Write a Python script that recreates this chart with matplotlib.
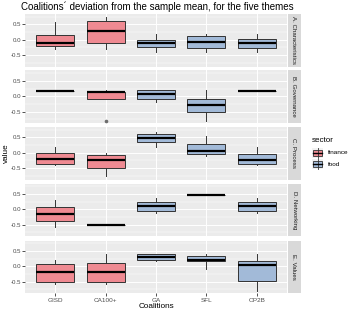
import matplotlib
matplotlib.use('Agg')
import matplotlib.pyplot as plt
from matplotlib.patches import Rectangle
from matplotlib.lines import Line2D

plt.rcParams['font.family'] = ['Liberation Sans', 'DejaVu Sans']

coalitions = ['GISD', 'CA100+', 'GA', 'SFL', 'OP2B']
sector_of = ['finance', 'finance', 'food', 'food', 'food']
themes = ['A. Characteristics', 'B. Governance', 'C. Process', 'D. Networking', 'E. Values']

# each row: [whisker low, q1, median, q3, whisker high] per coalition
theme_a = [[-0.29, -0.21, -0.10, 0.14, 0.58],
           [-0.29, -0.09, 0.28, 0.62, 0.73],
           [-0.39, -0.25, -0.12, -0.02, 0.18],
           [-0.39, -0.26, -0.08, 0.11, 0.19],
           [-0.39, -0.26, -0.11, 0.04, 0.19]]
theme_b = [[0.16, 0.16, 0.16, 0.16, 0.16],
           [-0.10, -0.10, 0.15, 0.15, 0.20],
           [-0.19, -0.08, 0.08, 0.21, 0.21],
           [-0.79, -0.50, -0.29, -0.09, 0.19],
           [0.16, 0.16, 0.16, 0.16, 0.16]]
theme_c = [[-0.40, -0.35, -0.21, -0.02, 0.20],
           [-0.74, -0.48, -0.24, -0.06, -0.01],
           [0.20, 0.34, 0.47, 0.60, 0.68],
           [-0.09, -0.03, 0.07, 0.29, 0.56],
           [-0.39, -0.35, -0.23, -0.03, 0.19]]
theme_d = [[-0.57, -0.38, -0.14, 0.07, 0.29],
           [-0.52, -0.52, -0.52, -0.52, -0.52],
           [-0.13, -0.06, 0.10, 0.25, 0.38],
           [0.46, 0.46, 0.46, 0.46, 0.46],
           [-0.13, -0.06, 0.10, 0.25, 0.38]]
theme_e = [[-0.59, -0.52, -0.18, 0.09, 0.20],
           [-0.59, -0.52, -0.18, 0.12, 0.40],
           [0.16, 0.19, 0.30, 0.41, 0.41],
           [-0.09, 0.16, 0.21, 0.34, 0.39],
           [-0.79, -0.47, 0.03, 0.18, 0.40]]
outliers = {('B. Governance', 'CA100+'): [-0.79]}

all_stats = [theme_a, theme_b, theme_c, theme_d, theme_e]
sector_colors = {'finance': '#EF8A92', 'food': '#A2BAD8'}

W, H = 350, 312
fig = plt.figure(figsize=(W / 100, H / 100), dpi=100)

def fx(px):
    return px / W

def fy(py):
    return 1 - py / H

pl, pr = 25, 287
strip_w = 13
tops = [14, 70.5, 127, 183.5, 240.5]
ph = 52.5

for ti, (theme, stats) in enumerate(zip(themes, all_stats)):
    top = tops[ti]
    ax = fig.add_axes([fx(pl), fy(top + ph), fx(pr - pl), ph / H])
    ax.set_facecolor('#EBEBEB')
    ax.set_xlim(0.4, 5.6)
    ax.set_ylim(-0.87, 0.84)
    for y in [-0.75, -0.25, 0.25, 0.75]:
        ax.axhline(y, color='white', lw=0.35, zorder=0)
    for y in [-0.5, 0, 0.5]:
        ax.axhline(y, color='white', lw=0.7, zorder=0)
    for x in range(1, 6):
        ax.axvline(x, color='white', lw=0.7, zorder=0)
    bstats = []
    for ci, s in enumerate(stats):
        bstats.append(dict(whislo=s[0], q1=s[1], med=s[2], q3=s[3], whishi=s[4],
                           fliers=outliers.get((theme, coalitions[ci]), [])))
    res = ax.bxp(bstats, positions=range(1, 6), widths=0.75, patch_artist=True,
                 showcaps=False,
                 boxprops=dict(edgecolor='#333333', linewidth=0.7),
                 whiskerprops=dict(color='#333333', linewidth=0.7),
                 medianprops=dict(color='black', linewidth=1.6),
                 flierprops=dict(marker='o', markersize=1.6, markerfacecolor='#6E6E6E',
                                 markeredgecolor='#6E6E6E'))
    for ci, b in enumerate(res['boxes']):
        b.set_facecolor(sector_colors[sector_of[ci]])
    for m in res['medians']:
        m.set_solid_capstyle('butt')
    ax.set_yticks([-0.5, 0, 0.5])
    ax.set_yticklabels(['-0.5', '0.0', '0.5'])
    ax.tick_params(axis='y', length=2, width=0.6, color='#333333', labelsize=4.4,
                   labelcolor='#4D4D4D', pad=1)
    if ti == 4:
        ax.set_xticks(range(1, 6))
        ax.set_xticklabels(coalitions)
        ax.tick_params(axis='x', length=2, width=0.6, color='#333333', labelsize=4.6,
                       labelcolor='#4D4D4D', pad=1.5)
    else:
        ax.set_xticks(range(1, 6))
        ax.set_xticklabels([])
        ax.tick_params(axis='x', length=0)
    for sp in ax.spines.values():
        sp.set_visible(False)
    # strip
    sax = fig.add_axes([fx(pr + 0.5), fy(top + ph), fx(strip_w), ph / H])
    sax.set_facecolor('#D9D9D9')
    sax.set_xticks([]); sax.set_yticks([])
    for sp in sax.spines.values():
        sp.set_visible(False)
    sax.text(0.5, 0.5, theme, rotation=-90, ha='center', va='center',
             fontsize=4.4, color='#1A1A1A', transform=sax.transAxes, clip_on=True)

fig.text(fx(21), fy(7), 'Coalitions´ deviation from the sample mean, for the five themes',
         ha='left', va='center', fontsize=7.0, color='black')
fig.text(fx((pl + pr) / 2), fy(307), 'Coalitions', ha='center', va='center',
         fontsize=5.9, color='black')
fig.text(fx(6), fy(153), 'value', ha='center', va='center', rotation=90,
         fontsize=5.9, color='black')

# legend
fig.text(fx(312), fy(140), 'sector', ha='left', va='center', fontsize=5.8, color='black')
for i, (lab, yc) in enumerate([('finance', 153), ('food', 164)]):
    col = sector_colors[lab]
    kx0, kx1 = 313, 322
    fig.add_artist(Rectangle((fx(kx0 - 1), fy(yc + 5)), fx(kx1 - kx0 + 2), 10 / H,
                             facecolor='#F2F2F2', edgecolor='none'))
    fig.add_artist(Line2D([fx((kx0 + kx1) / 2)] * 2, [fy(yc - 5), fy(yc + 5)],
                          color='#333333', lw=0.6))
    fig.add_artist(Rectangle((fx(kx0), fy(yc + 3)), fx(kx1 - kx0), 6 / H,
                             facecolor=col, edgecolor='#333333', lw=0.6))
    fig.add_artist(Line2D([fx(kx0), fx(kx1)], [fy(yc), fy(yc)], color='black', lw=1.0))
    fig.text(fx(328), fy(yc), lab, ha='left', va='center', fontsize=4.6, color='black')

fig.savefig('out.png', dpi=100)
